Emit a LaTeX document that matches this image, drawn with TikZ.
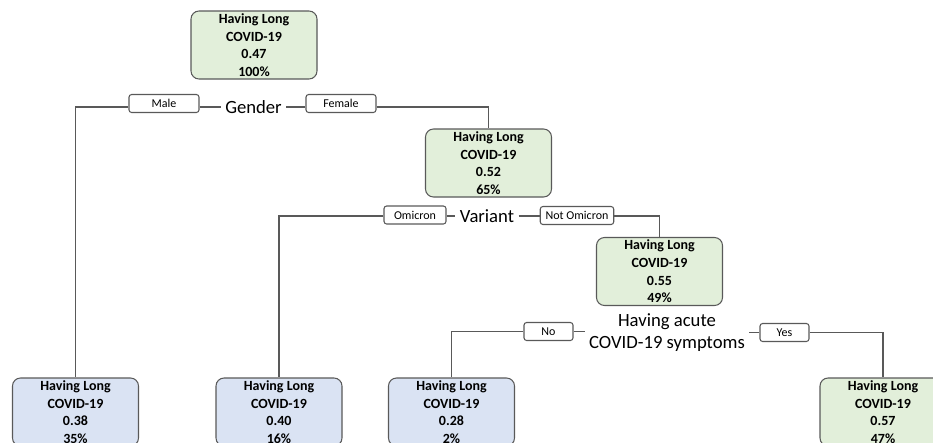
\documentclass[tikz,border=0pt]{standalone}
\usepackage{fontspec}
\setmainfont{Carlito}
\definecolor{leafgreen}{HTML}{E2EFDA}
\definecolor{leafblue}{HTML}{DAE3F3}
\definecolor{edgegray}{HTML}{595959}
\begin{document}
\begin{tikzpicture}[x=0.75pt,y=-0.75pt,line width=0.8pt]
\tikzstyle{every node}=[inner sep=1pt]
\tikzstyle{leaf}=[draw=edgegray,rounded corners=6pt,minimum width=94.5pt,minimum height=51pt,align=center,font=\fontsize{10.5}{13.2}\selectfont\bfseries]
\tikzstyle{split}=[align=center,inner xsep=3pt,font=\fontsize{14}{16.5}\selectfont]
\tikzstyle{tag}=[draw=edgegray,rounded corners=2pt,minimum height=13.5pt,inner xsep=4pt,font=\fontsize{9}{10}\selectfont]
\useasboundingbox (0,0) rectangle (933,443);
\clip (0,0) rectangle (933,443);

\node[leaf,fill=leafgreen](n0) at (254,45) {Having Long\\COVID-19\\0.47\\100\%};
\node[split](s0) at (253.5,107) {Gender};
\node[tag,minimum width=52.5pt](t0) at (164,103.5) {Male};
\node[tag,minimum width=52.5pt](t1) at (341,103.5) {Female};
\node[leaf,fill=leafblue](n1) at (75.5,412) {Having Long\\COVID-19\\0.38\\35\%};
\node[leaf,fill=leafgreen](n2) at (488.5,163) {Having Long\\COVID-19\\0.52\\65\%};
\node[split](s1) at (487,216) {Variant};
\node[tag,minimum width=46.5pt](t2) at (415,215) {Omicron};
\node[tag](t3) at (577,215.5) {Not Omicron};
\node[leaf,fill=leafblue](n4) at (279,412) {Having Long\\COVID-19\\0.40\\16\%};
\node[leaf,fill=leafgreen](n3) at (659.5,271.5) {Having Long\\COVID-19\\0.55\\49\%};
\node[split](s2) at (667,333) {Having acute\\COVID-19 symptoms};
\node[tag,minimum width=36.75pt](t4) at (548.5,331.5) {No};
\node[tag,minimum width=36.75pt](t5) at (784.5,332.5) {Yes};
\node[leaf,fill=leafblue](n5) at (451.5,412) {Having Long\\COVID-19\\0.28\\2\%};
\node[leaf,fill=leafgreen](n6) at (883,412) {Having Long\\COVID-19\\0.57\\47\%};

\draw[edgegray] (t0.west |- s0) -| (n1.north);
\draw[edgegray] (t0.east |- s0) -- (s0.west);
\draw[edgegray] (s0.east) -- (t1.west |- s0);
\draw[edgegray] (t1.east |- s0) -| (n2.north);
\draw[edgegray] (t2.west |- s1) -| (n4.north);
\draw[edgegray] (t2.east |- s1) -- (s1.west);
\draw[edgegray] (s1.east) -- (t3.west |- s1);
\draw[edgegray] (t3.east |- s1) -| (n3.north);
\draw[edgegray] (t4.west) -| (n5.north);
\draw[edgegray] (t4.east) -- (s2.west |- t4);
\draw[edgegray] (s2.east |- t5) -- (t5.west);
\draw[edgegray] (t5.east) -| (n6.north);
\end{tikzpicture}
\end{document}
